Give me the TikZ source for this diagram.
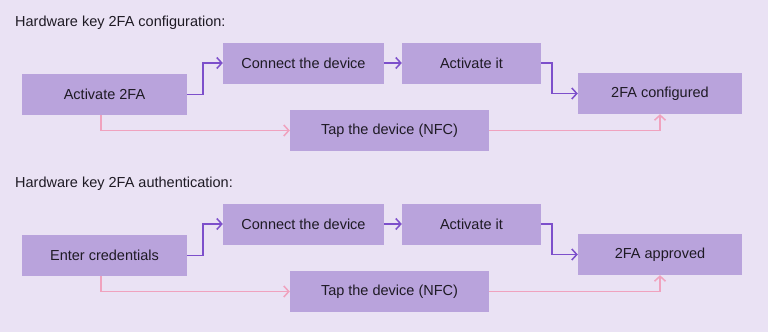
\documentclass[tikz,border=0pt]{standalone}
\usepackage{fontspec}
\setmainfont{Liberation Sans}
\usetikzlibrary{arrows.meta}
\definecolor{bg}{HTML}{EAE2F4}
\definecolor{box}{HTML}{B9A3DC}
\definecolor{ink}{HTML}{1E1A24}
\definecolor{flow}{HTML}{7D4FCB}
\definecolor{nfc}{HTML}{F0A2BE}

\begin{document}
\begin{tikzpicture}[x=1pt, y=-1pt, font=\fontsize{14.5}{17}\selectfont, text=ink,
  s/.style={fill=box, minimum height=41pt, inner sep=0pt, align=center},
  arr/.style={-{Straight Barb[length=5pt, width=11pt]}, line width=1.5pt, flow}
]
  \fill[bg] (0,0) rectangle (768,332);
  \foreach \r/\dy/\what/\first/\last in {a/0/configuration/Activate 2FA/2FA configured,
                                        b/161/authentication/Enter credentials/2FA approved} {
    \node[anchor=base west, inner sep=0pt] (title\r) at (15,26+\dy) {Hardware key 2FA \what:};
    \node[s, minimum width=165pt] (start\r) at (104.5,94.5+\dy) {\first};
    \node[s, minimum width=161pt] (conn\r) at (303.5,63+\dy) {Connect the device};
    \node[s, minimum width=139pt] (act\r) at (471.5,63+\dy) {Activate it};
    \node[s, minimum width=164pt] (done\r) at (660,93.5+\dy) {\last};
    \node[s, minimum width=199pt] (tap\r) at (389.5,130.5+\dy) {Tap the device (NFC)};
    \draw[arr] (start\r.east) -- ++(16,0) |- (conn\r.west);
    \draw[arr] (conn\r) -- (act\r);
    \draw[arr] (act\r.east) -- ++(11,0) |- (done\r.west);
    \draw[arr, nfc] ([xshift=-3.5pt]start\r.south) |- (tap\r.west);
    \draw[arr, nfc] (tap\r.east) -| (done\r.south);
  }
\end{tikzpicture}
\end{document}
